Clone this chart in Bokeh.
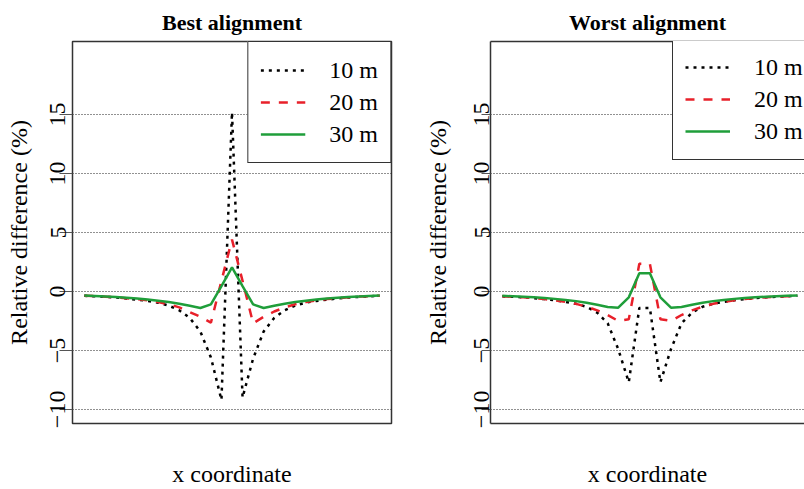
from bokeh.plotting import figure
from bokeh.models import FixedTicker, LinearAxis, Legend, LegendItem, Range1d
from bokeh.layouts import row
from bokeh.embed import file_html
from bokeh.resources import INLINE

# ---------------- data ----------------
x_pos = list(range(-14, 15))
y_ticks = [-10, -5, 0, 5, 10, 15]
series_labels = ["10 m", "20 m", "30 m"]
titles = ["Best alignment", "Worst alignment"]

best_10 = [-0.37, -0.41, -0.46, -0.52, -0.6, -0.7, -0.8, -0.95, -1.2, -1.6, -2.25, -3.4, -5.6, -9.2,
           15.2,
           -9.0, -5.7, -3.4, -2.25, -1.6, -1.2, -0.95, -0.8, -0.7, -0.6, -0.52, -0.46, -0.41, -0.37]
best_20 = [-0.36, -0.4, -0.44, -0.5, -0.57, -0.65, -0.75, -0.9, -1.08, -1.35, -1.75, -2.15, -2.65, 0.9,
           4.4,
           0.9, -2.7, -2.15, -1.7, -1.35, -1.08, -0.9, -0.75, -0.65, -0.57, -0.5, -0.44, -0.4, -0.36]
best_30 = [-0.35, -0.38, -0.42, -0.47, -0.53, -0.6, -0.68, -0.78, -0.9, -1.05, -1.22, -1.4, -1.1, 0.45,
           2.05,
           0.45, -1.1, -1.4, -1.22, -1.05, -0.9, -0.78, -0.68, -0.6, -0.53, -0.47, -0.42, -0.38, -0.35]

worst_10 = [-0.41, -0.45, -0.5, -0.57, -0.65, -0.75, -0.88, -1.05, -1.3, -1.8, -2.7, -4.9, -7.7, -1.4,
            -1.4, -7.7, -4.9, -2.7, -1.8, -1.3, -1.05, -0.88, -0.75, -0.65, -0.57, -0.5, -0.45, -0.41, -0.37]
worst_20 = [-0.41, -0.45, -0.5, -0.57, -0.65, -0.75, -0.88, -1.05, -1.3, -1.6, -2.0, -2.5, -2.35, 2.35,
            2.35, -2.35, -2.5, -2.0, -1.6, -1.3, -1.05, -0.88, -0.75, -0.65, -0.57, -0.5, -0.45, -0.41, -0.37]
worst_30 = [-0.37, -0.41, -0.45, -0.5, -0.56, -0.63, -0.72, -0.82, -0.95, -1.12, -1.32, -1.38, -0.5, 1.55,
            1.55, -0.5, -1.38, -1.32, -1.12, -0.95, -0.82, -0.72, -0.63, -0.56, -0.5, -0.45, -0.41, -0.37, -0.34]

SERIF = "Liberation Serif"
BOX = "#333333"
COLORS = ["black", "#e8202a", "#1f9e3a"]
DASHES = ["3 5", "9 9", "solid"]


def make_panel(title, ys, width, left_border, right_border, xr, tick_out,
               lab_standoff, axlab_standoff, full_box, legend_loc):
    p = figure(width=width, height=489, x_range=Range1d(*xr), y_range=Range1d(-11.2, 21.2),
               output_backend="svg", toolbar_location=None,
               min_border_left=left_border, min_border_right=right_border,
               min_border_top=40, min_border_bottom=66, title=title)
    p.background_fill_color = "white"
    p.border_fill_color = "white"
    p.title.text_font = SERIF
    p.title.text_font_size = "22px"
    p.title.text_font_style = "bold"
    p.title.align = "center"
    p.title.text_color = "black"
    p.title.standoff = 14

    if full_box:
        p.outline_line_color = BOX
        p.outline_line_width = 1.5
    else:
        p.outline_line_color = None

    # y axis
    yax = p.yaxis[0]
    yax.ticker = FixedTicker(ticks=y_ticks)
    p.ygrid[0].ticker = FixedTicker(ticks=y_ticks)
    yax.major_label_orientation = "vertical"
    yax.minor_tick_line_color = None
    yax.major_tick_in = 0
    yax.major_tick_out = tick_out
    yax.major_tick_line_color = "#555555"
    yax.major_label_standoff = lab_standoff
    yax.major_label_text_font = SERIF
    yax.major_label_text_font_size = "24px"
    yax.major_label_text_color = "black"
    yax.axis_label = "Relative difference (%)"
    yax.axis_label_text_font = SERIF
    yax.axis_label_text_font_size = "24px"
    yax.axis_label_text_font_style = "normal"
    yax.axis_label_text_color = "black"
    yax.axis_label_standoff = axlab_standoff
    yax.axis_line_color = None if full_box else BOX
    yax.axis_line_width = 1.5

    # x axis
    xax = p.xaxis[0]
    xax.ticker = FixedTicker(ticks=[])
    xax.major_tick_out = 0
    xax.major_tick_in = 0
    xax.minor_tick_line_color = None
    xax.major_label_standoff = 0
    xax.axis_label = "x coordinate"
    xax.axis_label_text_font = SERIF
    xax.axis_label_text_font_size = "24px"
    xax.axis_label_text_font_style = "normal"
    xax.axis_label_text_color = "black"
    xax.axis_label_standoff = 37
    xax.axis_line_color = None if full_box else BOX
    xax.axis_line_width = 1.5

    if not full_box:
        top = LinearAxis(ticker=FixedTicker(ticks=[]), axis_line_color=BOX, axis_line_width=1.5,
                         major_tick_out=0, major_tick_in=0, minor_tick_line_color=None,
                         major_label_standoff=0)
        p.add_layout(top, "above")

    p.xgrid.visible = False
    p.ygrid.grid_line_color = "#222222"
    p.ygrid.grid_line_dash = "1 2"
    p.ygrid.grid_line_width = 1

    renderers = []
    for y, c, d in zip(ys, COLORS, DASHES):
        r = p.line(x_pos, y, line_color=c, line_width=2.5, line_dash=d)
        renderers.append(r)

    legend = Legend(items=[LegendItem(label=lab, renderers=[r]) for lab, r in zip(series_labels, renderers)],
                    location=legend_loc,
                    label_text_font=SERIF, label_text_font_size="24px", label_text_color="black",
                    glyph_width=45, glyph_height=30, label_height=32, label_standoff=24,
                    padding=12, spacing=0, margin=0,
                    border_line_color=BOX, border_line_width=1.5, border_line_alpha=1,
                    background_fill_color="white", background_fill_alpha=1)
    p.add_layout(legend)
    return p


p1 = make_panel(titles[0], [best_10, best_20, best_30], 402, 72, 11, (-15.12, 15.12),
                13, -6, 16, True, "top_right")
p2 = make_panel(titles[1], [worst_10, worst_20, worst_30], 402, 88, 0, (-15.12, 14.67),
                9, -8, 21, False, (182, 263))

layout = row(p1, p2)
open("out.html", "w").write(file_html(layout, INLINE))
